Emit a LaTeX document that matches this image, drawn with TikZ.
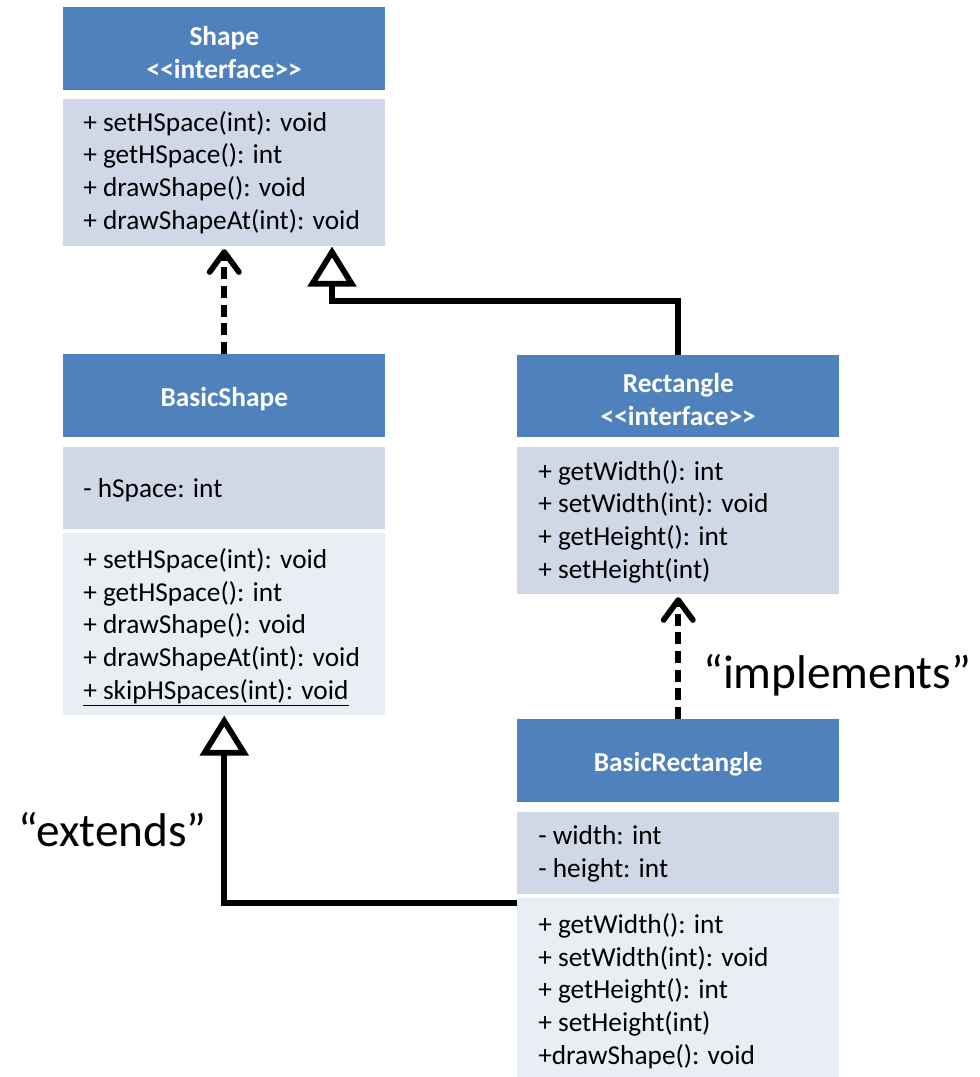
\documentclass[tikz,border=0pt]{standalone}
\usepackage{fontspec}
\setmainfont{Carlito}
\usetikzlibrary{arrows.meta}
\definecolor{umlblue}{RGB}{79,129,189}
\definecolor{umldark}{RGB}{208,216,232}
\definecolor{umllight}{RGB}{233,237,244}

\begin{document}
\begin{tikzpicture}[x=0.75pt,y=-0.75pt,
  sect/.style={rectangle, anchor=north west, inner sep=0pt, minimum width=241.5pt},
  titlebox/.style={sect, fill=umlblue},
  attrbox/.style={sect, fill=umldark},
  opbox/.style={sect, fill=umllight},
  titletext/.style={text=white, font=\fontsize{20.5}{24.75}\selectfont\bfseries, align=center, inner sep=0pt, yshift=-2.5pt},
  % member lists are placed by the baseline of their last line
  membertext/.style={anchor=base west, inner sep=0pt, align=left, font=\fontsize{20.5}{24.5}\selectfont},
  note/.style={inner sep=0pt, font=\fontsize{35.5}{42}\selectfont},
  link/.style={line width=4.25pt, black},
  realize/.style={link, dash pattern=on 9pt off 5pt, -{Straight Barb[length=15pt, width=22pt, round]}},
  generalize/.style={link, -{Triangle[open, length=30pt, width=36pt]}}
]
\path[use as bounding box] (0,0) rectangle (980,1077);

% Shape interface
\node[titlebox, minimum height=62.25pt] (shapeT) at (63,7) {};
\node[attrbox, minimum height=110.25pt] (shapeM) at (63,99) {};
\node[titletext] (shapeName) at (shapeT.center) {Shape\\<\kern0pt<interface>\kern0pt>};
\node[membertext] (shapeOps) at (83,229) {+ setHSpace(int): void\\+ getHSpace(): int\\+ drawShape(): void\\+ drawShapeAt(int): void};

% BasicShape class
\node[titlebox, minimum height=62.25pt] (basicT) at (63,354) {};
\node[attrbox, minimum height=61.5pt] (basicA) at (63,447) {};
\node[opbox, minimum height=136.5pt] (basicM) at (63,533) {};
\node[titletext] (basicName) at (basicT.center) {BasicShape};
\node[membertext] (basicAttrs) at (83,497) {- hSpace: int};
\node[membertext] (basicOps) at (83,699) {+ setHSpace(int): void\\+ getHSpace(): int\\+ drawShape(): void\\+ drawShapeAt(int): void\\\underline{+ skipHSpaces(int): void}};

% Rectangle interface
\node[titlebox, minimum height=61.5pt] (rectT) at (517,355) {};
\node[attrbox, minimum height=110.25pt] (rectM) at (517,447) {};
\node[titletext] (rectName) at (rectT.center) {Rectangle\\<\kern0pt<interface>\kern0pt>};
\node[membertext] (rectOps) at (538,578) {+ getWidth(): int\\+ setWidth(int): void\\+ getHeight(): int\\+ setHeight(int)};

% BasicRectangle class
\node[titlebox, minimum height=62.25pt] (brectT) at (517,719) {};
\node[attrbox, minimum height=61.5pt] (brectA) at (517,812) {};
\node[opbox, minimum height=134.25pt] (brectM) at (517,898) {};
\node[titletext] (brectName) at (brectT.center) {BasicRectangle};
\node[membertext] (brectAttrs) at (538,877) {- width: int\\- height: int};
\node[membertext] (brectOps) at (538,1064) {+ getWidth(): int\\+ setWidth(int): void\\+ getHeight(): int\\+ setHeight(int)\\+drawShape(): void};

% relationship labels
\node[note, anchor=west] (implLabel) at (703,675) {“implements”};
\node[note, anchor=east] (extLabel) at (207,830) {“extends”};

% relationships
\coordinate (bendA) at (332,301);
\coordinate (bendB) at ([yshift=-3.75pt]brectM.north west);

\draw[realize] (basicT.north) -- ([yshift=-2pt]shapeM.south);
\draw[generalize] (rectT.north) |- (bendA) -- (bendA |- shapeM.south);
\draw[realize] (brectT.north) -- ([yshift=-2pt]rectM.south);
\draw[generalize] (bendB) -| (basicM.south);
\end{tikzpicture}
\end{document}
